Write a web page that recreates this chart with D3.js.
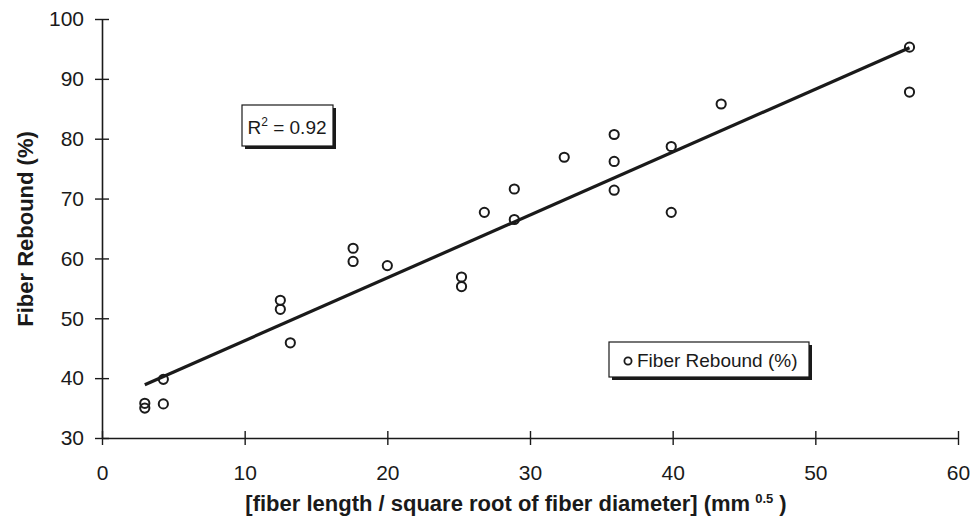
<!DOCTYPE html>
<html>
<head>
<meta charset="utf-8">
<script src="https://cdn.jsdelivr.net/npm/d3@7"></script>
<style>
  body { margin: 0; background: #fff; }
  text { font-family: "Liberation Sans", Arial, sans-serif; fill: #1a1a1a; }
</style>
</head>
<body>
<div id="chart"></div>
<script>
// values
const fiberX = [3.0, 3.0, 4.3, 4.3, 12.5, 12.5, 13.2, 17.6, 17.6, 20.0, 25.2, 25.2,
                26.8, 28.9, 28.9, 32.4, 35.9, 35.9, 35.9, 39.9, 39.9, 43.4, 56.6, 56.6];
const rebound = [35.8, 35.0, 39.8, 35.7, 53.0, 51.5, 45.9, 61.7, 59.5, 58.8, 56.9, 55.3,
                 67.7, 71.6, 66.5, 76.9, 80.7, 76.2, 71.4, 78.7, 67.7, 85.8, 95.3, 87.8];
const trendX = [3.0, 56.6];
const trendY = [38.9, 95.2];
const xTicks = [0, 10, 20, 30, 40, 50, 60];
const yTicks = [30, 40, 50, 60, 70, 80, 90, 100];

const width = 971, height = 518;
const margin = {top: 19, right: 13, bottom: 80, left: 102};
const ink = '#1a1a1a';

const svg = d3.select('#chart').append('svg')
    .attr('width', width)
    .attr('height', height);

const x = d3.scaleLinear().domain([0, 60]).range([margin.left, width - margin.right]);
const y = d3.scaleLinear().domain([30, 100]).range([height - margin.bottom, margin.top]);

// y axis, ticks cross the line
let gy = svg.append('g')
    .attr('transform', 'translate(' + margin.left + ',0)')
    .call(d3.axisLeft(y).tickValues(yTicks).tickSizeOuter(0).tickSizeInner(7).tickPadding(11));
gy.select('.domain').attr('stroke', ink).attr('stroke-width', 1.6);
gy.selectAll('.tick line').attr('x1', 7).attr('x2', -7).attr('stroke', ink).attr('stroke-width', 1.4);
gy.selectAll('.tick text').attr('font-size', 21).attr('fill', ink)
    .style('font-family', '"Liberation Sans", Arial, sans-serif');

let gx = svg.append('g')
    .attr('transform', 'translate(0,' + y(30) + ')')
    .call(d3.axisBottom(x).tickValues(xTicks).tickSizeOuter(0).tickSizeInner(7).tickPadding(20));
gx.select('.domain').attr('stroke', ink).attr('stroke-width', 1.6);
gx.selectAll('.tick line').attr('y1', -7).attr('y2', 7).attr('stroke', ink).attr('stroke-width', 1.4);
gx.selectAll('.tick text').attr('font-size', 21).attr('fill', ink)
    .style('font-family', '"Liberation Sans", Arial, sans-serif');

// trend line
svg.append('path')
    .datum(trendX.map((d, i) => [d, trendY[i]]))
    .attr('fill', 'none')
    .attr('stroke', ink)
    .attr('stroke-width', 3.2)
    .attr('d', d3.line().x(d => x(d[0])).y(d => y(d[1])));

// points
svg.append('g').selectAll('circle')
    .data(fiberX.map((d, i) => [d, rebound[i]]))
    .enter()
    .append('circle')
    .attr('cx', d => x(d[0]))
    .attr('cy', d => y(d[1]))
    .attr('r', 4.6)
    .attr('fill', 'none')
    .attr('stroke', ink)
    .attr('stroke-width', 2);

// boxes with drop shadow
function shadowBox(x0, y0, w, h) {
    svg.append('rect').attr('x', x0 + 3).attr('y', y0 + 3).attr('width', w).attr('height', h).attr('fill', ink);
    svg.append('rect').attr('x', x0).attr('y', y0).attr('width', w).attr('height', h)
        .attr('fill', '#fff').attr('stroke', ink).attr('stroke-width', 1.2);
}

shadowBox(242, 105, 91, 41);
let r2 = svg.append('text').attr('x', 287).attr('y', 134).attr('text-anchor', 'middle').attr('font-size', 19);
r2.append('tspan').text('R');
r2.append('tspan').attr('font-size', 12).attr('dy', -8).text('2');
r2.append('tspan').attr('dy', 8).text(' = 0.92');

shadowBox(609, 342, 200, 35);
svg.append('circle').attr('cx', 628).attr('cy', 361).attr('r', 3.6)
    .attr('fill', 'none').attr('stroke', ink).attr('stroke-width', 1.8);
svg.append('text').attr('x', 637).attr('y', 367).attr('font-size', 19).text('Fiber Rebound (%)');

// axis titles
svg.append('text')
    .attr('transform', 'translate(33,229) rotate(-90)')
    .attr('text-anchor', 'middle')
    .attr('font-size', 22)
    .attr('font-weight', 'bold')
    .text('Fiber Rebound (%)');

let xt = svg.append('text')
    .attr('x', 516).attr('y', 511)
    .attr('text-anchor', 'middle')
    .attr('font-size', 22)
    .attr('font-weight', 'bold');
xt.append('tspan').text('[fiber length / square root of fiber diameter] (mm');
xt.append('tspan').attr('font-size', 13).attr('dy', -8).attr('dx', 5).text('0.5');
xt.append('tspan').attr('dy', 8).text(' )');
</script>
</body>
</html>
